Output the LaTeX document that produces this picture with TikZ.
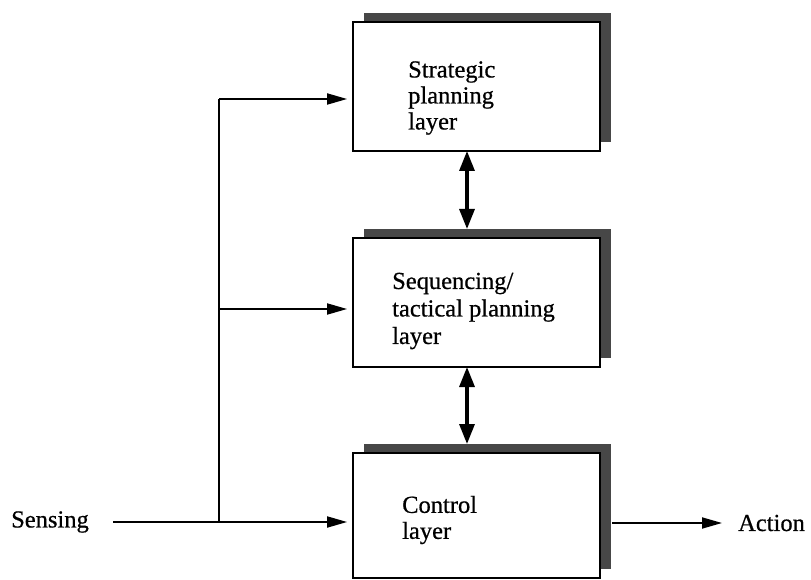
\documentclass[tikz,border=0pt]{standalone}
\usepackage{fontspec}
\setmainfont{Liberation Serif}[FakeBold=0.6]
\usetikzlibrary{arrows.meta,shadows,calc}
\begin{document}
\begin{tikzpicture}[x=1pt,y=1pt,
  layerbox/.style={draw=black, line width=1.8pt, fill=white, minimum width=247pt, inner sep=0pt,
    drop shadow={shadow xshift=11pt, shadow yshift=9pt, fill=black!72, opacity=1}},
  lbl/.style={font=\fontsize{24.5}{26}\selectfont, align=left, inner sep=0pt, anchor=west},
  feed/.style={line width=1.8pt, -{Triangle[length=20pt, width=11pt]}, shorten >=5pt},
  link/.style={line width=3.2pt, {Triangle[length=20pt, width=15pt]}-{Triangle[length=20pt, width=15pt]}},
  thin/.style={line width=1.5pt}
]
\useasboundingbox (0,0) rectangle (811,579);
\node[layerbox, minimum height=129pt] (s1) at (476.5,492.5) {};
\node[layerbox, minimum height=129pt] (s2) at (476.5,276.5) {};
\node[layerbox, minimum height=125pt] (s3) at (476.5,63.5) {};

\node[lbl] (t1) at (408,481) {Strategic\\planning\\layer};
\node[lbl, font=\fontsize{24.5}{27.5}\selectfont] (t2) at (392,268) {Sequencing/\\tactical planning\\layer};
\node[lbl] (t3) at (402,59) {Control\\layer};

\node[font=\fontsize{24.5}{25}\selectfont, inner sep=0pt] (sens) at (50,57) {Sensing};
\node[font=\fontsize{24.5}{25}\selectfont, inner sep=0pt, anchor=west] (act) at (738,56) {Action};

\coordinate (sh2) at (467,350);
\coordinate (sh3) at (467,135);
\coordinate (j0) at (219,57);
\coordinate (j1) at (219,480);
\coordinate (j2) at (219,270);
\coordinate (sstart) at (113,57);
\coordinate (astart) at (612,56);
\coordinate (aend) at (727,56);

\draw[link] (467,428) -- (sh2);
\draw[link] (467,212) -- (sh3);

\draw[thin] (j0) -- (j1);
\draw[feed] (j1) -- (j1 -| s1.west);
\draw[feed] (j2) -- (j2 -| s2.west);
\draw[feed] (sstart) -- (sstart -| s3.west);
\draw[feed] (astart) -- (aend);
\end{tikzpicture}
\end{document}
